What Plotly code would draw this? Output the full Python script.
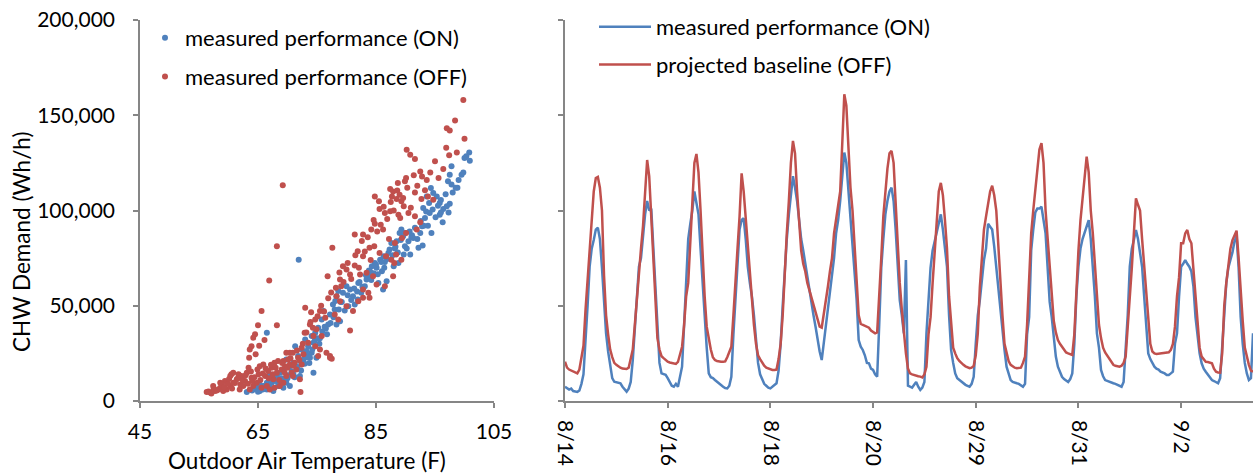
import plotly.graph_objects as go

# ---------------- data ----------------
# Left panel: outdoor air temperature (F) vs CHW demand (thousand Wh/h)
on_temp = [63.1, 64.2, 64.8, 65.3, 65.9, 66.5, 67.0, 67.6, 68.2, 68.7, 69.3, 69.8, 70.4, 71.0, 71.3, 71.8,
           72.7, 73.8, 74.9, 74.1, 73.2, 72.4, 73.0, 73.5, 74.4, 74.1, 74.7, 75.2, 75.8, 76.1, 76.9, 77.2,
           78.3, 78.9, 80.3, 81.4, 78.0, 77.7, 78.3, 78.6, 79.4, 80.0, 80.6, 81.1, 81.9, 82.5, 83.1, 83.4,
           83.9, 85.4, 86.2, 86.8, 86.0, 85.1, 84.3, 84.8, 85.7, 86.3, 87.1, 88.0, 88.8, 89.7, 90.8, 89.9,
           87.6, 88.5, 89.0, 89.3, 89.9, 90.5, 91.3, 92.2, 92.9, 92.5, 92.8, 94.4, 93.3, 93.0, 94.1, 96.3,
           95.8, 96.4, 97.5, 97.0, 95.8, 93.6, 95.3, 94.7, 94.3, 97.8, 97.2, 97.5, 97.8, 100.9, 100.0, 100.8,
           99.5, 71.9, 66.5, 67.6, 68.4, 69.8, 71.0, 71.5, 72.1, 74.4, 72.1, 70.4, 69.3, 66.5, 65.3, 70.0,
           68.9, 73.6, 75.5, 76.5, 79.0, 82.0, 84.0, 86.5, 88.2, 91.0, 93.8, 96.0, 98.8, 99.8,
           64.0, 64.6, 65.0, 65.8, 66.2, 66.9, 67.3, 67.9, 68.5, 69.0, 69.5, 70.1, 70.7, 71.2, 71.7, 72.3,
           72.9, 73.3, 73.7, 74.2, 74.6, 75.0, 75.4, 75.9, 76.3, 76.7, 77.3, 77.8, 78.1, 78.7, 79.2, 79.7,
           80.2, 80.8, 81.3, 81.8, 82.2, 82.7, 83.3, 83.8, 84.2, 84.6, 85.0, 85.3, 85.9, 86.4, 86.9, 87.3,
           87.8, 88.3, 88.7, 89.2, 89.6, 90.2, 90.7, 91.1, 91.6, 92.0, 92.6, 93.1, 93.5, 94.0, 94.6, 95.1,
           95.5, 96.0, 96.8, 97.3, 98.0, 98.5, 99.0, 100.3]
on_val = [4.7, 6.1, 7.0, 8.7, 7.9, 9.6, 14.0, 11.4, 13.1, 14.8, 16.6, 21.8, 18.3, 20.1, 28.8, 23.6,
          21.8, 22.7, 22.7, 25.3, 26.2, 27.0, 32.3, 28.8, 30.6, 34.1, 35.8, 38.4, 42.8, 47.2, 40.2, 45.4,
          40.2, 41.9, 49.8, 50.7, 48.0, 50.7, 55.0, 57.7, 56.8, 60.3, 58.5, 55.0, 53.3, 56.8, 60.3, 63.8,
          65.5, 62.0, 58.5, 62.9, 68.1, 69.9, 70.7, 72.5, 74.2, 76.0, 77.7, 70.7, 72.5, 76.9, 76.9, 81.2,
          83.0, 83.9, 88.2, 90.0, 88.2, 83.9, 85.6, 80.4, 81.6, 88.2, 91.7, 88.2, 96.1, 101.3, 98.7, 93.8,
          97.8, 100.8, 103.6, 102.2, 104.0, 107.4, 107.4, 109.2, 111.8, 113.6, 115.3, 118.8, 123.2, 126.1, 127.5, 130.5,
          118.8, 74.2, 35.8, 5.2, 7.9, 9.6, 14.0, 18.3, 21.0, 14.8, 13.1, 7.9, 7.0, 6.1, 5.2, 12.0,
          10.5, 24.0, 33.0, 38.0, 52.0, 62.0, 68.0, 73.0, 80.0, 86.0, 92.0, 99.0, 112.0, 120.0,
          5.5, 6.5, 4.8, 6.0, 8.0, 7.2, 9.5, 10.5, 9.0, 12.0, 11.0, 13.5, 15.5, 12.5, 17.0, 16.0,
          19.5, 23.0, 20.0, 27.0, 31.5, 33.0, 30.0, 36.5, 39.0, 35.0, 41.0, 44.0, 52.5, 48.0, 52.0, 47.5,
          55.5, 53.0, 59.0, 57.5, 62.5, 60.0, 66.0, 68.5, 63.5, 67.0, 71.5, 66.5, 73.0, 70.0, 74.5, 79.5,
          76.5, 81.0, 78.0, 84.5, 86.5, 80.0, 89.0, 87.0, 91.0, 85.0, 94.5, 92.0, 99.5, 104.0, 100.5, 96.5,
          102.5, 105.5, 108.5, 99.0, 109.5, 112.0, 116.0, 128.5]

off_temp = [69.2, 68.2, 66.9, 65.6, 65.0, 68.2, 64.5, 64.2, 63.9, 63.6, 63.5, 77.6, 76.8, 73.0, 74.0, 80.6,
            77.2, 77.5, 72.2, 99.8, 98.4, 97.0, 97.5, 100.0, 98.7, 97.4, 95.0, 96.4, 90.2, 90.8, 91.6, 92.5,
            92.8, 90.1, 89.9, 88.7, 87.4, 87.9, 89.0, 87.7, 88.5, 89.3, 91.6, 93.3, 93.8, 94.7, 84.8, 85.5,
            85.6, 86.5, 87.4, 88.8, 90.5, 91.6, 92.5, 91.9, 89.7, 82.8, 84.2, 84.8, 86.2, 87.2, 88.2, 89.4,
            90.1, 81.4, 81.9, 82.8, 83.9, 84.7, 85.6, 86.7, 87.6, 88.4, 89.3, 88.1, 81.4, 79.4, 80.0, 80.6,
            82.3, 83.4, 84.5, 85.1, 86.5, 87.9, 78.9, 79.1, 82.8, 83.7, 83.9, 78.3, 78.9, 80.0, 81.1, 82.0,
            82.8, 78.0, 78.6, 75.5, 76.4, 74.7, 73.8, 74.9, 75.8, 74.4, 73.5, 74.7, 72.9, 72.4, 75.5, 76.6,
            77.2, 75.2, 56.3, 56.9, 57.7, 58.3, 58.6, 59.1, 59.7, 60.3, 60.8, 60.5, 61.4, 62.0, 62.2, 62.8,
            63.1, 63.4, 63.9, 64.2, 64.8, 65.1, 65.3, 65.9, 66.2, 66.5, 66.7, 67.3, 67.6, 68.2, 68.4, 68.7,
            69.0, 69.6, 69.8, 70.1, 70.4, 70.7, 70.9, 71.2, 71.5, 71.8, 72.1, 72.4, 72.7, 70.4, 60.8, 60.3,
            61.7, 58.6, 59.4, 57.4, 62.5, 63.6, 65.6, 67.0, 67.8, 69.3, 70.9, 69.3, 67.8, 69.8,
            56.6, 57.1, 57.5, 58.0, 58.9, 59.3, 59.9, 60.1, 60.6, 61.1, 61.6, 61.9, 62.4, 62.9, 63.3, 63.8,
            64.0, 64.4, 64.9, 65.4, 65.8, 66.3, 66.8, 67.2, 67.5, 68.0, 68.6, 69.1, 69.5, 70.0, 70.5, 71.0,
            71.6, 72.0, 72.6, 73.2, 73.9, 74.3, 75.1, 75.7, 76.2, 76.9, 77.4, 78.2, 78.8, 79.5, 80.2, 80.8,
            81.5, 82.1, 82.6, 83.1, 83.6, 84.1, 84.6, 85.2, 85.8, 86.3, 86.9, 87.5, 88.0, 88.6, 89.1, 89.6,
            90.3, 90.9, 91.4, 92.0, 92.7, 93.6, 94.2, 95.6, 96.9, 65.2, 64.6, 66.1]
off_val = [113.2, 81.2, 63.2, 47.2, 39.7, 39.7, 35.0, 33.2, 28.8, 27.0, 22.7, 80.4, 65.5, 48.9, 46.6, 37.0,
           23.6, 22.2, 4.7, 158.0, 147.3, 143.2, 142.0, 137.7, 130.5, 129.0, 125.8, 121.8, 131.9, 129.3, 127.0, 120.5,
           117.9, 117.0, 115.3, 114.4, 111.3, 110.0, 108.3, 107.4, 106.0, 104.8, 109.5, 110.6, 107.4, 105.7, 107.4, 104.8,
           100.8, 98.7, 99.6, 97.8, 98.7, 97.0, 93.8, 90.0, 102.2, 87.4, 90.0, 93.1, 90.0, 85.1, 83.0, 85.6,
           88.2, 87.4, 78.6, 76.0, 80.4, 81.2, 77.7, 76.0, 74.2, 76.9, 74.2, 72.5, 71.1, 70.7, 69.0, 66.4,
           66.4, 67.3, 65.5, 61.1, 60.3, 65.5, 63.8, 60.3, 58.5, 56.8, 54.2, 55.0, 52.4, 49.8, 47.2, 52.4,
           54.2, 45.4, 42.8, 47.2, 43.7, 42.8, 40.2, 37.6, 34.1, 34.1, 30.6, 28.8, 35.8, 28.0, 27.0, 25.3,
           22.7, 23.6, 4.7, 4.4, 5.2, 6.1, 7.0, 5.2, 6.1, 7.9, 9.6, 14.0, 11.4, 8.7, 13.1, 10.5,
           14.8, 17.5, 12.2, 7.9, 9.6, 14.0, 18.3, 19.2, 13.1, 7.9, 15.7, 17.5, 11.4, 14.8, 21.0, 7.9,
           16.6, 18.3, 13.1, 21.8, 19.2, 14.8, 25.3, 20.1, 16.6, 22.7, 11.4, 19.2, 24.5, 25.3, 14.8, 13.1,
           14.0, 9.6, 10.5, 7.9, 7.9, 6.1, 7.0, 6.1, 7.0, 9.6, 13.1, 21.0, 20.1, 25.3,
           5.0, 4.0, 6.5, 5.5, 8.5, 7.2, 9.0, 11.5, 6.5, 9.5, 12.0, 6.0, 11.0, 13.5, 9.0, 15.5,
           10.5, 12.5, 16.5, 11.0, 14.5, 17.0, 12.0, 19.0, 14.0, 17.5, 11.0, 20.0, 15.0, 17.5, 22.5, 18.5,
           26.5, 21.5, 30.0, 36.0, 41.5, 38.5, 44.5, 50.0, 47.0, 54.0, 57.0, 59.5, 67.5, 62.5, 72.5, 64.0,
           76.5, 70.0, 84.0, 78.5, 86.0, 74.0, 95.0, 89.0, 92.5, 102.0, 95.5, 104.5, 100.0, 110.5, 96.0, 106.5,
           112.0, 101.5, 118.5, 113.0, 106.0, 116.0, 120.0, 117.0, 133.0, 29.0, 24.5, 32.0]

# Right panel: hourly CHW demand (thousand Wh/h), 24 values per day
days = ["8/14", "8/15", "8/16", "8/17", "8/18", "8/19", "8/20",
        "8/28", "8/29", "8/30", "8/31", "9/1", "9/2", "9/3"]

on_hourly = [
    [7.5, 6.5, 6.0, 6.5, 5.2, 5.0, 4.8, 5.5, 9, 14, 30, 50, 70.5, 80, 84.5, 90, 91, 85, 70, 50, 35.5, 26, 20, 12],
    [10.1, 9.8, 9.5, 9.3, 7.5, 6, 4.9, 6.5, 10, 21.5, 40, 55, 70.5, 75, 88, 98, 105, 100, 101, 80, 62, 35.5, 20, 14.5],
    [14, 13.7, 12, 10, 8, 7.5, 9, 7.5, 12, 18, 40, 62, 85, 93, 100, 110, 104, 98, 80, 60, 45, 28, 14.5, 12.5],
    [12, 11, 10, 9, 8, 7.5, 6.8, 6.6, 8, 12.7, 35, 55, 75, 90, 95, 95.9, 85, 70.5, 62, 55, 45, 32, 20, 14],
    [11, 9, 8, 7, 6.6, 7.5, 8.5, 9.3, 16, 30, 50, 70, 85, 98, 110, 118, 112, 105, 95, 85, 79, 72, 64, 56.5],
    [50, 45, 39, 32, 26, 21.5, 30, 39, 48, 58.6, 65, 75, 88, 95, 105, 120, 130.4, 125, 110, 95, 80, 65, 53, 32],
    [28.5, 26.8, 24, 20, 19.8, 17, 16.3, 14, 12.7, 40, 70, 85, 98, 105, 110, 112, 105, 90, 70, 53, 45, 35.5, 74, 8],
    [7.5, 7, 8.5, 10, 7.5, 5.8, 7, 10, 35.5, 55, 70, 79, 84, 88, 93, 98, 90, 80, 70.5, 45, 26.8, 20, 14.5, 12],
    [11, 10, 9.3, 8.5, 8, 7.5, 9, 12.7, 30, 45, 53, 65, 74, 80, 93, 91.5, 90, 81, 70, 60, 45, 35, 26.8, 18],
    [14, 11, 10, 9.8, 9.3, 9, 8, 7.5, 9, 35, 44, 79, 90, 99, 101, 101, 102, 95, 88, 70, 52, 44, 35, 23.3],
    [18, 15, 12.7, 11.5, 10.5, 10, 11.5, 14.5, 30, 55, 70.5, 80, 85, 88, 92, 95, 85, 70.5, 55, 35.5, 28, 16.3, 13, 11],
    [10.5, 10, 9.8, 9.3, 9, 8.5, 7.8, 7.5, 10, 26.8, 45, 70.5, 80, 84.5, 89.8, 85, 78, 70.5, 55, 40, 25, 22, 20, 18],
    [17, 16.5, 15.4, 15, 14.5, 13.7, 13.7, 14.5, 15.4, 30, 35.5, 55, 70.5, 72, 74, 72, 70.5, 68, 60, 44, 35, 25, 19.8, 17],
    [15.4, 14, 13, 11, 10.5, 10, 9.3, 12, 26.8, 45, 62, 70, 74, 78, 84, 86.7, 70, 44, 30, 20, 14.5, 11, 12, 35.5],
]

off_hourly = [
    [20.6, 17.5, 16.5, 16.0, 15.5, 15.0, 14.5, 16.5, 22, 29, 48, 65, 82, 98, 110, 117, 117.6, 112, 100, 66, 45, 35, 27, 23],
    [20, 19, 18, 17.5, 17, 16.8, 16.8, 17.5, 22, 27, 40, 55, 65, 80, 92, 108, 126.5, 118, 95, 78, 52, 33, 27, 23.5],
    [22.5, 21.5, 20.6, 20.2, 20, 19.8, 19.5, 20.5, 24, 28.5, 40, 55, 62, 85, 105, 125, 129.7, 120, 100, 75, 55, 39, 32, 27],
    [23, 21.5, 21, 20.6, 20.6, 20.6, 20.8, 23, 26, 28.5, 45, 60, 80, 97, 119.5, 110, 96, 80, 65, 53, 40, 30, 24, 22],
    [20, 18.5, 17.5, 17, 16.5, 16.3, 16.3, 16.5, 22, 30, 45, 70, 88, 105, 125, 136.5, 130, 110, 95, 79, 72, 68, 62, 58],
    [54, 50, 46, 42, 39, 38.5, 45, 53, 60, 68, 75, 88, 95, 102, 110, 135, 161, 155, 135, 112, 100, 80, 65, 45],
    [40.5, 40, 39.5, 39, 38.5, 37, 36, 35.5, 36, 53, 75, 97, 110, 122, 130, 131.3, 125, 105, 80, 62, 48, 36, 25, 17],
    [14.5, 14, 13.8, 13.5, 13, 12.8, 12.4, 14, 18, 35, 44, 62, 80, 97, 110, 114.5, 108, 95, 80, 55, 39, 28, 25, 22.5],
    [21, 19.8, 19, 18.2, 17.5, 17.2, 17.5, 18.4, 24, 35.5, 60, 77, 90, 96.8, 104, 110, 113, 108, 100, 80, 60, 45, 30, 25],
    [21, 19, 18, 17.5, 17.2, 17.2, 17.5, 20, 23.3, 40, 62, 88, 100, 110, 122, 132, 135.3, 125, 100, 85, 70, 55, 42, 36],
    [32, 30, 28.5, 27, 25.5, 25, 24.5, 24.2, 35, 60, 79, 95, 105, 115, 128.3, 120, 100, 88, 70, 55, 40, 33, 28, 25.5],
    [24, 22, 20.5, 19, 18.5, 18.2, 18, 18.5, 20, 23.3, 38, 53, 70, 88, 106.4, 103, 100, 85, 70.5, 55, 40, 30, 26, 25],
    [24.7, 24.8, 25, 25.2, 25.3, 25.4, 25.6, 26.8, 30, 39, 55, 65, 82.8, 82.8, 88, 89.8, 85, 82.8, 70, 55, 40, 28, 23.3, 22],
    [20.6, 20.5, 20, 19.8, 17, 15.4, 15, 14.9, 25, 50, 62, 72, 80, 84.5, 87, 89.4, 75, 55, 42, 28, 23.3, 19, 16, 15.4],
]

tick_every = 50  # hourly categories between labelled ticks

# ---------------- build ----------------
hours = [f"{d} {h:02d}:00" for d in days for h in range(24)]
on_series = [v * 1000 for day in on_hourly for v in day]
off_series = [v * 1000 for day in off_hourly for v in day]
tick_cats = hours[::tick_every]
tick_text = [c.split(" ")[0] for c in tick_cats]

BLUE = "#4F81BD"
RED = "#C0504D"
AX = "#868686"
FONT = "Lato, Carlito, Calibri, sans-serif"
TICK_SIZE = 21
TITLE_SIZE = 22.5
LEG_SIZE = 22

fig = go.Figure()
fig.add_trace(go.Scatter(x=on_temp, y=[v * 1000 for v in on_val], mode="markers",
                         name="measured performance (ON)", marker=dict(color=BLUE, size=6),
                         legend="legend", legendgroup="a", xaxis="x", yaxis="y"))
fig.add_trace(go.Scatter(x=off_temp, y=[v * 1000 for v in off_val], mode="markers",
                         name="measured performance (OFF)", marker=dict(color=RED, size=6),
                         legend="legend", legendgroup="b", xaxis="x", yaxis="y"))
fig.add_trace(go.Scatter(x=hours, y=on_series, mode="lines", name="measured performance (ON)",
                         line=dict(color=BLUE, width=2.5), legend="legend2", legendgroup="c",
                         xaxis="x2", yaxis="y2"))
fig.add_trace(go.Scatter(x=hours, y=off_series, mode="lines", name="projected baseline (OFF)",
                         line=dict(color=RED, width=2.5), legend="legend2", legendgroup="d",
                         xaxis="x2", yaxis="y2"))

W, H = 1254, 475
ydom = [(H - 401) / H, (H - 20) / H]
axis_common = dict(showline=True, linecolor=AX, linewidth=1.5, ticks="outside", ticklen=5,
                   tickcolor=AX, tickwidth=1.5, showgrid=False, zeroline=False,
                   tickfont=dict(family=FONT, size=TICK_SIZE, color="black"))

fig.update_layout(
    width=W, height=H,
    margin=dict(l=0, r=0, t=0, b=0, autoexpand=False),
    paper_bgcolor="white", plot_bgcolor="white",
    font=dict(family=FONT, size=TICK_SIZE, color="black"),
    showlegend=True,
    xaxis=dict(domain=[140 / W, 494 / W], range=[45, 105], dtick=20, tick0=45,
               ticklabelstandoff=6, anchor="y", automargin=False, **axis_common),
    yaxis=dict(domain=ydom, range=[0, 200000], dtick=50000, tickformat=",d",
               ticklabelstandoff=14, anchor="x", automargin=False, **axis_common),
    xaxis2=dict(domain=[565 / W, 1253 / W], type="category", range=[0, len(hours) - 1],
                tickmode="array", tickvals=tick_cats, ticktext=tick_text, tickangle=90,
                ticklabelstandoff=8,
                anchor="y2", automargin=False, **axis_common),
    yaxis2=dict(domain=ydom, range=[0, 200000], dtick=50000, showticklabels=False,
                anchor="x2", automargin=False, **axis_common),
    legend=dict(x=145 / W, y=(H - 17) / H, xanchor="left", yanchor="top", bgcolor="rgba(0,0,0,0)",
                font=dict(family=FONT, size=LEG_SIZE), tracegroupgap=7),
    legend2=dict(x=594 / W, y=(H - 6) / H, xanchor="left", yanchor="top", bgcolor="rgba(0,0,0,0)",
                 font=dict(family=FONT, size=LEG_SIZE), tracegroupgap=6, itemwidth=52),
    annotations=[
        dict(text="Outdoor Air Temperature (F)", xref="paper", yref="paper",
             x=307 / W, y=(H - 460) / H, xanchor="center", yanchor="middle", showarrow=False,
             font=dict(family=FONT, size=TITLE_SIZE, color="black")),
        dict(text="CHW Demand (Wh/h)", xref="paper", yref="paper", textangle=-90,
             x=21 / W, y=(H - 242) / H, xanchor="center", yanchor="middle", showarrow=False,
             font=dict(family=FONT, size=TITLE_SIZE, color="black")),
    ],
)

fig.write_html("out.html", config={"displayModeBar": False},
               post_script="document.body.style.margin='0';document.body.style.overflow='hidden';")
